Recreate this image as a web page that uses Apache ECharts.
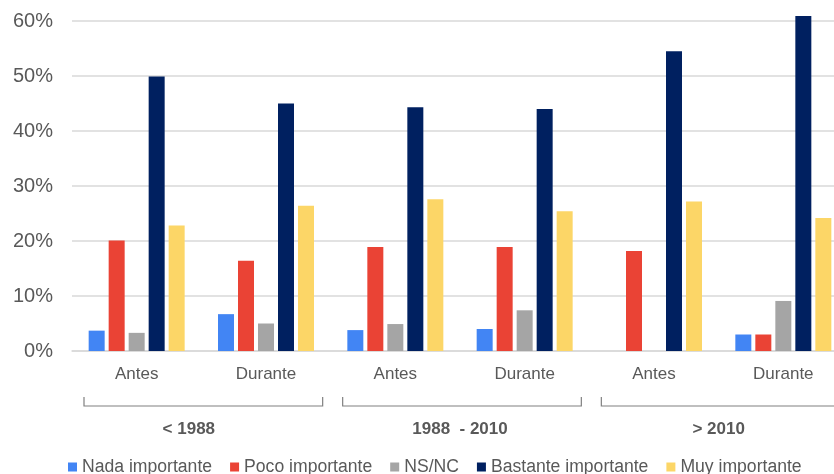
<!DOCTYPE html>
<html>
<head>
<meta charset="utf-8">
<script src="https://cdn.jsdelivr.net/npm/echarts@6/dist/echarts.min.js"></script>
<style>
  html, body { margin: 0; padding: 0; background: #ffffff; overflow: hidden; }
  /* the plot area runs past the right edge of the window */
  #chart { width: 848px; height: 474px; }
</style>
</head>
<body>
<div id="chart"></div>
<script>
// Periods (Antes / Durante) within each era
const categories = ['Antes', 'Durante', 'Antes', 'Durante', 'Antes', 'Durante'];
const groups = ['< 1988', '1988  - 2010', '> 2010'];
const yTicks = [0, 10, 20, 30, 40, 50, 60];

// Share of answers, in percent
const nadaImportante     = [3.7, 6.7, 3.8, 4.0, 0, 3.0];
const pocoImportante     = [20.1, 16.4, 18.9, 18.9, 18.2, 3.0];
const nsNc               = [3.3, 5.0, 4.9, 7.4, 0, 9.1];
const bastanteImportante = [49.9, 45.0, 44.3, 44.0, 54.5, 60.9];
const muyImportante      = [22.8, 26.4, 27.6, 25.4, 27.2, 24.2];

const seriesDefs = [
  { name: 'Nada importante', data: nadaImportante, color: '#4285F4' },
  { name: 'Poco importante', data: pocoImportante, color: '#EA4335' },
  { name: 'NS/NC', data: nsNc, color: '#A5A5A5' },
  { name: 'Bastante importante', data: bastanteImportante, color: '#002060' },
  { name: 'Muy importante', data: muyImportante, color: '#FCD667' }
];

const textColor = '#595959';
const fontFamily = '"Liberation Sans", Arial, sans-serif';

const chart = echarts.init(document.getElementById('chart'), null, { renderer: 'canvas' });

chart.setOption({
  animation: false,
  textStyle: { fontFamily: fontFamily },
  grid: { left: 72, right: 0, top: 21, bottom: 123, containLabel: false },
  legend: {
    left: 68,
    top: 458,
    padding: 0,
    icon: 'rect',
    itemWidth: 9,
    itemHeight: 9,
    itemGap: 18,
    textStyle: { fontSize: 17.6, color: textColor, fontFamily: fontFamily },
    data: seriesDefs.map(s => s.name)
  },
  xAxis: [
    {
      type: 'category',
      data: categories,
      axisLine: { show: true, lineStyle: { color: '#D9D9D9', width: 1.5 } },
      axisTick: { show: false },
      axisLabel: { color: textColor, fontSize: 17, margin: 15, fontFamily: fontFamily }
    },
    {
      type: 'category',
      // the first era label sits a little left of its bracket centre
      data: groups.map((g, i) => i === 0 ? { value: g, textStyle: { padding: [0, 25, 0, 0] } } : g),
      position: 'bottom',
      axisLine: { show: false },
      axisTick: { show: false },
      axisLabel: { color: textColor, fontSize: 17, fontWeight: 'bold', margin: 70, fontFamily: fontFamily }
    }
  ],
  yAxis: {
    type: 'value',
    min: yTicks[0],
    max: yTicks[yTicks.length - 1],
    interval: 10,
    axisLine: { show: false },
    axisTick: { show: false },
    splitLine: { lineStyle: { color: '#D9D9D9', width: 1.5 } },
    axisLabel: { formatter: '{value}%', color: textColor, fontSize: 20, margin: 19, fontFamily: fontFamily }
  },
  series: seriesDefs.map(s => ({
    name: s.name,
    type: 'bar',
    xAxisIndex: 0,
    data: s.data,
    barWidth: 16,
    barGap: '25%',
    clip: false,
    itemStyle: { color: s.color }
  }))
});

// Brackets under each era, spanning its two periods
const brackets = [];
groups.forEach((g, i) => {
  const first = chart.convertToPixel({ xAxisIndex: 0 }, i * 2);
  const second = chart.convertToPixel({ xAxisIndex: 0 }, i * 2 + 1);
  const step = second - first;
  const x0 = first - step / 2 + 12;
  const x1 = second + step / 2 - 8;
  const yLine = chart.convertToPixel({ yAxisIndex: 0 }, 0) + 55;
  brackets.push({
    type: 'polyline',
    silent: true,
    shape: { points: [[x0, yLine - 9], [x0, yLine], [x1, yLine], [x1, yLine - 9]] },
    style: { stroke: '#808080', lineWidth: 1.2, fill: null }
  });
});
chart.setOption({ graphic: brackets });
</script>
</body>
</html>
